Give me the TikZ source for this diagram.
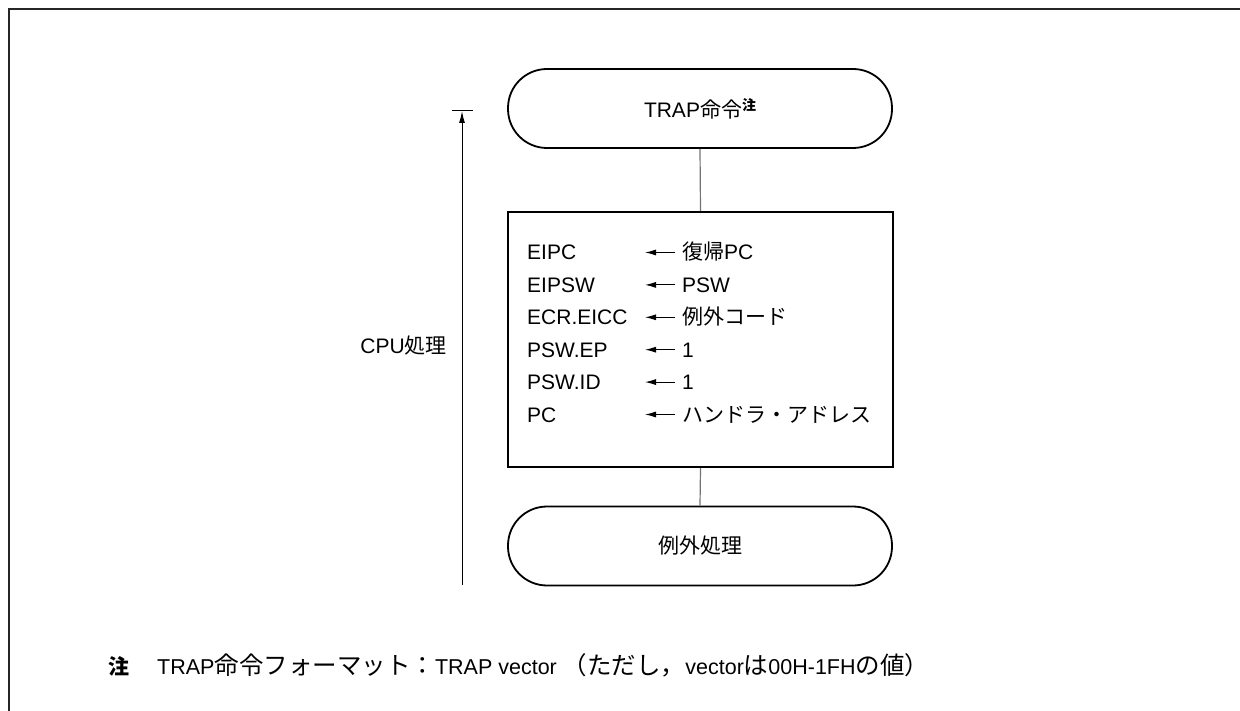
\documentclass[tikz,border=0pt]{standalone}
\usepackage{fontspec}
\setmainfont{Liberation Sans}
\newfontfamily\jp{Noto Sans CJK JP}
\usetikzlibrary{arrows.meta}
\newcommand\nj[1]{{\fontsize{24.5}{28}\selectfont\jp #1}}
\tikzset{
  term/.style={draw, line width=1.8pt, rounded corners=39pt, minimum width=384pt, minimum height=79pt, inner sep=0pt},
  procbox/.style={draw, line width=2pt, minimum width=385pt, minimum height=255pt, inner sep=0pt},
  link/.style={draw=black!55, line width=1.2pt},
  txt/.style={inner sep=0pt, font=\fontsize{21}{25}\selectfont},
  notetxt/.style={inner sep=0pt, font=\fontsize{21.5}{25}\selectfont},
  rowarrow/.style={line width=1pt, -{Latex[length=11pt,width=6pt]}},
  frame/.style={line width=2pt, draw=black!85},
}
\begin{document}
\begin{tikzpicture}[x=1pt,y=-1pt]
\useasboundingbox (0,0) rectangle (1240,711);
% frame
\draw[frame] (9,711) -- (9,9) -- (1240,9);
% terminals and box
\node[term, txt] (trap) at (700,108.5) {TRAP{\jp 命令}\raisebox{7pt}{\fontsize{14}{16}\selectfont\jp\bfseries 注}};
\node[procbox] (box) at (700.5,339.5) {};
\node[term, txt] (exc) at (700,546) {\jp 例外処理};
\draw[link] (trap.south) -- (box.north);
\draw[link] (box.south) -- (exc.north);
% rows
\foreach \i/\l/\r/\y in {1/EIPC/{\jp 復帰}PC/260,
                         2/EIPSW/PSW/292.4,
                         3/ECR.EICC/{\jp 例外コード}/324.8,
                         4/PSW.EP/1/357.2,
                         5/PSW.ID/1/389.6,
                         6/PC/{\jp ハンドラ・アドレス}/422}{
  \node[txt, anchor=base west] (l\i) at (527,\y) {\l};
  \node[txt, anchor=base west] (r\i) at (682,\y) {\r};
  \coordinate (a\i) at (645,\y-7.5);
  \draw[rowarrow] (r\i.west |- a\i) ++(-7,0) -- (a\i);
}
% CPU arrow
\coordinate (cb) at (462,585);
\coordinate (ct) at (462,111);
\coordinate (bl) at (452,111);
\coordinate (br) at (473,111);
\draw[line width=1pt, -{Latex[length=12pt,width=6pt]}] (cb) -- (ct);
\draw[line width=1pt] (bl) -- (br);
\node[txt, anchor=base east] (cpu) at (447,354) {CPU{\jp 処理}};
% note
\node[txt, anchor=base west] (nmark) at (108,674) {\jp\bfseries 注};
\node[notetxt, anchor=base west] (note) at (157,674) {TRAP\nj{命令フォーマット：}TRAP vector \nj{（ただし，}vector\nj{は}00H-1FH\nj{の値）}};
\end{tikzpicture}
\end{document}
